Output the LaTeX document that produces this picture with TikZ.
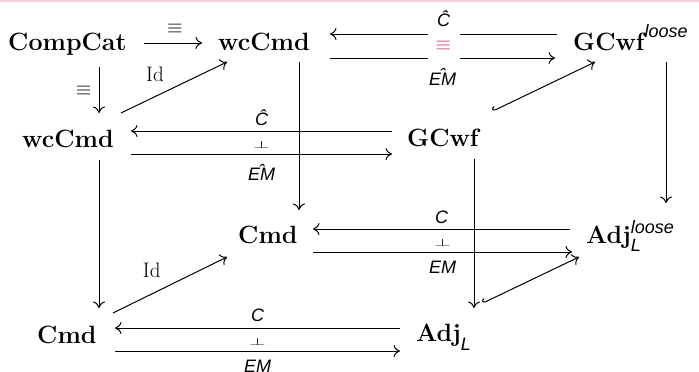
\RequirePackage{fix-cm}
\documentclass[tikz,border=0pt]{standalone}
\usepackage{fontspec}
\usepackage{graphicx}
\usetikzlibrary{arrows.meta}
\newfontfamily\labfont{Liberation Sans}
\definecolor{eqred}{RGB}{205,58,92}
\definecolor{rulepink}{RGB}{248,204,212}

% fonts for objects, arrow labels and symbols
\newcommand\objfont{\fontsize{25}{30}\selectfont\bfseries}
\newcommand\lbl{\fontsize{18}{21}\selectfont\labfont\mdseries\itshape}
\newcommand\symfont{\fontsize{10}{12}\selectfont}
% a circumflex centred over a whole label
\newcommand\hatover[1]{\setbox0\hbox{#1}\rlap{\hbox to\wd0{\hss\raisebox{3.2pt}{ˆ}\hss}}\box0}
\newcommand\equivsym{\scalebox{2}{$\equiv$}}
\newcommand\perpsym{\scalebox{2.1}[1.05]{$\perp$}}

\tikzset{
  obj/.style={anchor=base west, inner sep=0pt, font=\objfont},
  cd/.style={line width=1pt, -{Computer Modern Rightarrow[length=6.5pt,width=12pt]}},
  hookcd/.style={line width=1pt, {Hooks[right,length=3pt,width=8pt]}-{Computer Modern Rightarrow[length=6.5pt,width=12pt]}},
  lab/.style={inner sep=0pt, anchor=base, font=\lbl},
  sym/.style={inner sep=0pt, anchor=base, font=\symfont},
  idl/.style={inner sep=0pt, anchor=base, font=\fontsize{21}{24}\selectfont},
  eqbox/.style={fill=white, inner sep=0pt, minimum width=32pt, minimum height=27pt,
    text=eqred, font=\symfont, anchor=center},
}

\begin{document}
\begin{tikzpicture}[x=1pt, y=-1pt]
\useasboundingbox (0,0) rectangle (699,372);
\fill[rulepink] (0,0) rectangle (699,1.5);

% objects
\node[obj] (cc) at (8,50) {CompCat};
\node[obj] (wt) at (218,50) {wcCmd};
\node[obj] (gl) at (573,50) {GCwf\raisebox{13pt}{\lbl loose}};
\node[obj] (wl) at (22,147) {wcCmd};
\node[obj] (gm) at (407,146) {GCwf};
\node[obj] (cm) at (238,243) {Cmd};
\node[obj] (al) at (586,243) {Adj\rlap{\raisebox{-8pt}{\lbl L}}\raisebox{10pt}{\lbl loose}};
\node[obj] (cb) at (37,343) {Cmd};
\node[obj] (ab) at (416,341) {Adj\raisebox{-9pt}{\lbl L}};

% top-left triangle
\draw[cd] ([shift={(136,-7)}]cc.base west) -- node[sym, yshift=9pt, xshift=2pt]{\equivsym} ([shift={(-16,-7)}]wt.base west);
\draw[cd] ([shift={(91,17)}]cc.base west) -- node[sym, anchor=base east, xshift=-7pt, yshift=-5.5pt]{\equivsym} ([shift={(77,-34)}]wl.base west);
\draw[cd] ([shift={(99,-34)}]wl.base west) -- node[idl, pos=0.32, yshift=15.6pt]{Id} ([shift={(9,12)}]wt.base west);

% top adjoint equivalence
\draw[cd] ([shift={(112,8)}]wt.base west) -- node[lab, yshift=-27pt]{\hatover{EM}} ([shift={(-18,8)}]gl.base west);
\draw[cd] ([shift={(-16,-16)}]gl.base west) -- node[lab, yshift=7pt]{Ĉ} node[eqbox, yshift=-12pt]{\equivsym} ([shift={(112,-16)}]wt.base west);

% verticals and inclusions
\draw[cd] ([shift={(81,12)}]wt.base west) -- ([shift={(61,-33)}]cm.base west);
\draw[cd] ([shift={(93,12)}]gl.base west) -- ([shift={(80,-40)}]al.base west);
\draw[hookcd] ([shift={(86,-35)}]gm.base west) -- ([shift={(22,12)}]gl.base west);

% middle adjunction
\draw[cd] ([shift={(-15,-15)}]gm.base west) -- node[lab, yshift=5.5pt]{Ĉ} ([shift={(109,-16)}]wl.base west);
\draw[cd] ([shift={(109,7)}]wl.base west) -- node[lab, yshift=-26.5pt]{\hatover{EM}} node[sym, yshift=5.5pt]{\perpsym} ([shift={(-15,8)}]gm.base west);

\draw[cd] ([shift={(67,13)}]gm.base west) -- ([shift={(58,-33)}]ab.base west);
\draw[cd] ([shift={(77,13)}]wl.base west) -- ([shift={(62,-35)}]cb.base west);
\draw[cd] ([shift={(76,-30)}]cb.base west) -- node[idl, pos=0.34, yshift=16pt]{Id} ([shift={(-11,14)}]cm.base west);

% back adjunction
\draw[cd] ([shift={(-16,-14)}]al.base west) -- node[lab, yshift=6pt]{C} ([shift={(75,-14)}]cm.base west);
\draw[cd] ([shift={(75,9)}]cm.base west) -- node[lab, yshift=-21pt]{EM} node[sym, yshift=5.5pt]{\perpsym} ([shift={(-14,9)}]al.base west);

% front adjunction
\draw[cd] ([shift={(-16,-13)}]ab.base west) -- node[lab, yshift=7pt]{C} ([shift={(78,-15)}]cb.base west);
\draw[cd] ([shift={(78,8)}]cb.base west) -- node[lab, yshift=-21pt]{EM} node[sym, yshift=5.5pt]{\perpsym} ([shift={(-16,10)}]ab.base west);
\draw[hookcd] ([shift={(67,-38)}]ab.base west) -- ([shift={(-7,14)}]al.base west);
\end{tikzpicture}
\end{document}
